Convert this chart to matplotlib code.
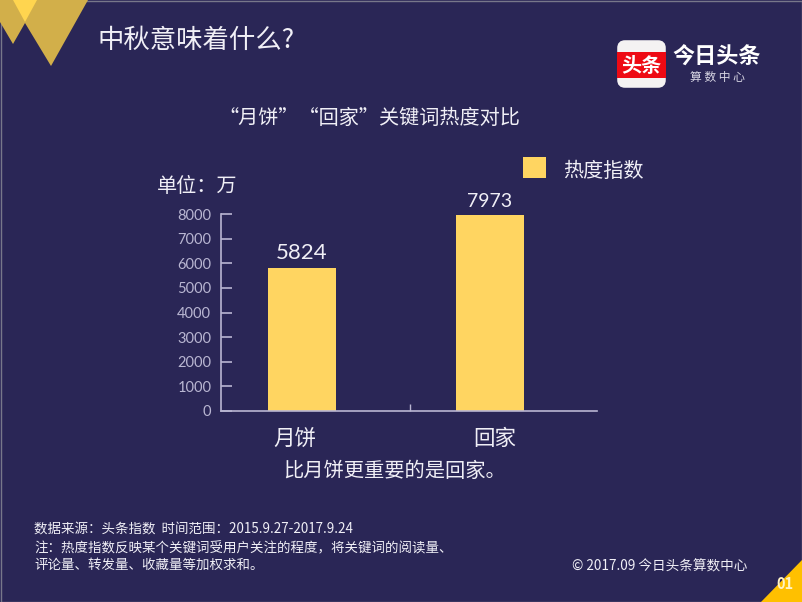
import matplotlib
matplotlib.use('Agg')
import matplotlib.pyplot as plt
from matplotlib.patches import Polygon, Rectangle, FancyBboxPatch

plt.rcParams['font.family'] = ['Noto Sans CJK SC', 'DejaVu Sans']

categories = ['月饼', '回家']
values = [5824, 7973]
yticks = [0, 1000, 2000, 3000, 4000, 5000, 6000, 7000, 8000]
label_sizes = [16, 14]

BG = '#2A2656'
YELLOW = '#FFD561'
LINE = '#B9B6D2'
TEXT = '#F0EFF6'
COLON = '\uff1a'
COMMA = '\uff0c'

fig = plt.figure(figsize=(8.02, 6.02), dpi=100, facecolor=BG)

# fond et decoration en pixels
bg = fig.add_axes([0, 0, 1, 1])
bg.set_xlim(0, 802)
bg.set_ylim(602, 0)
bg.axis('off')
bg.add_patch(Rectangle((0.5, 0.5), 801, 601, fill=False, ec='#77778A', lw=1))
bg.add_patch(Polygon([(12, 0), (88, 0), (51, 66), (25, 23), (13, 44), (0, 22), (0, 0)], fc='#D2AF4A', ec='none'))
bg.add_patch(Polygon([(13, 0), (37, 0), (25, 22)], fc='#FFD54F', ec='none'))
bg.add_patch(Polygon([(802, 560), (802, 602), (761, 602)], fc='#FFC000', ec='none'))
bg.text(785, 584, '01', color='#FFF3C4', fontsize=10.5, fontweight='bold', ha='center', va='center')

bg.text(97, 40, '中秋意味着什么?', color=TEXT, fontsize=19, ha='left', va='center')
bg.text(369, 118, '“月饼”“回家”关键词热度对比', color=TEXT, fontsize=14.5, ha='center', va='center')
bg.text(157, 187, '单位' + COLON + '万', color=TEXT, fontsize=14.5, ha='left', va='center')
bg.add_patch(Rectangle((523, 157), 23, 21, fc=YELLOW, ec='none'))
bg.text(563, 171, '热度指数', color=TEXT, fontsize=14.5, ha='left', va='center')
bg.text(395, 471, '比月饼更重要的是回家。', color=TEXT, fontsize=14.6, ha='center', va='center')

# logo
bg.add_patch(FancyBboxPatch((620, 43), 43, 42, boxstyle='round,pad=0,rounding_size=5', mutation_aspect=1,
                            fc='#F4F2F2', ec='#F4F2F2', lw=4))
bg.add_patch(Rectangle((617, 52), 49, 26, fc='#EE0A14', ec='none'))
bg.text(641, 65, '头条', color='white', fontsize=14.5, fontweight='bold', ha='center', va='center')
bg.text(717, 57, '今日头条', color='white', fontsize=15.9, fontweight='bold', ha='center', va='center')
bg.text(717, 77, '算 数 中 心', color='#D8D6E4', fontsize=8.5, ha='center', va='center')

# notes
notes = ['数据来源' + COLON + '头条指数  时间范围' + COLON + '2015.9.27-2017.9.24',
         '注' + COLON + '热度指数反映某个关键词受用户关注的程度' + COMMA + '将关键词的阅读量、',
         '评论量、转发量、收藏量等加权求和。']
for y, line in zip([530, 548, 565], notes):
    bg.text(34, y, line, color=TEXT, fontsize=9.7, ha='left', va='center')
bg.text(572, 566, '© 2017.09 今日头条算数中心', color=TEXT, fontsize=9.8, ha='left', va='center')

# graphique : x 221-597 px, y 214-411 px
ax = fig.add_axes([221 / 802, 1 - 411 / 602, 376 / 802, 197 / 602])
ax.patch.set_alpha(0)
ax.bar(range(len(values)), values, width=0.362, color=YELLOW)
ax.set_xlim(-0.431, 1.569)
ax.set_ylim(0, 8000)
ax.set_yticks(yticks)
ax.set_yticklabels([str(v) for v in yticks], fontsize=10.5, color=LINE, family='Lato')
ax.tick_params(axis='y', direction='in', length=8, width=1.2, color=LINE, pad=7)
ax.set_xticks([0.575])
ax.set_xticklabels([''])
ax.tick_params(axis='x', direction='in', length=5, width=1, color=LINE)
for s in ['top', 'right']:
    ax.spines[s].set_visible(False)
for s in ['left', 'bottom']:
    ax.spines[s].set_color(LINE)
    ax.spines[s].set_linewidth(1.2)

for i, v in enumerate(values):
    ax.text(i, v + 170, str(v), color=TEXT, fontsize=label_sizes[i], ha='center', va='bottom', family='Lato')
    ax.text(i - 0.036 + (0.06 if i else 0), -1130, categories[i], color=TEXT, fontsize=15.5, ha='center', va='center')

fig.savefig('out.png', dpi=100, facecolor=BG)
